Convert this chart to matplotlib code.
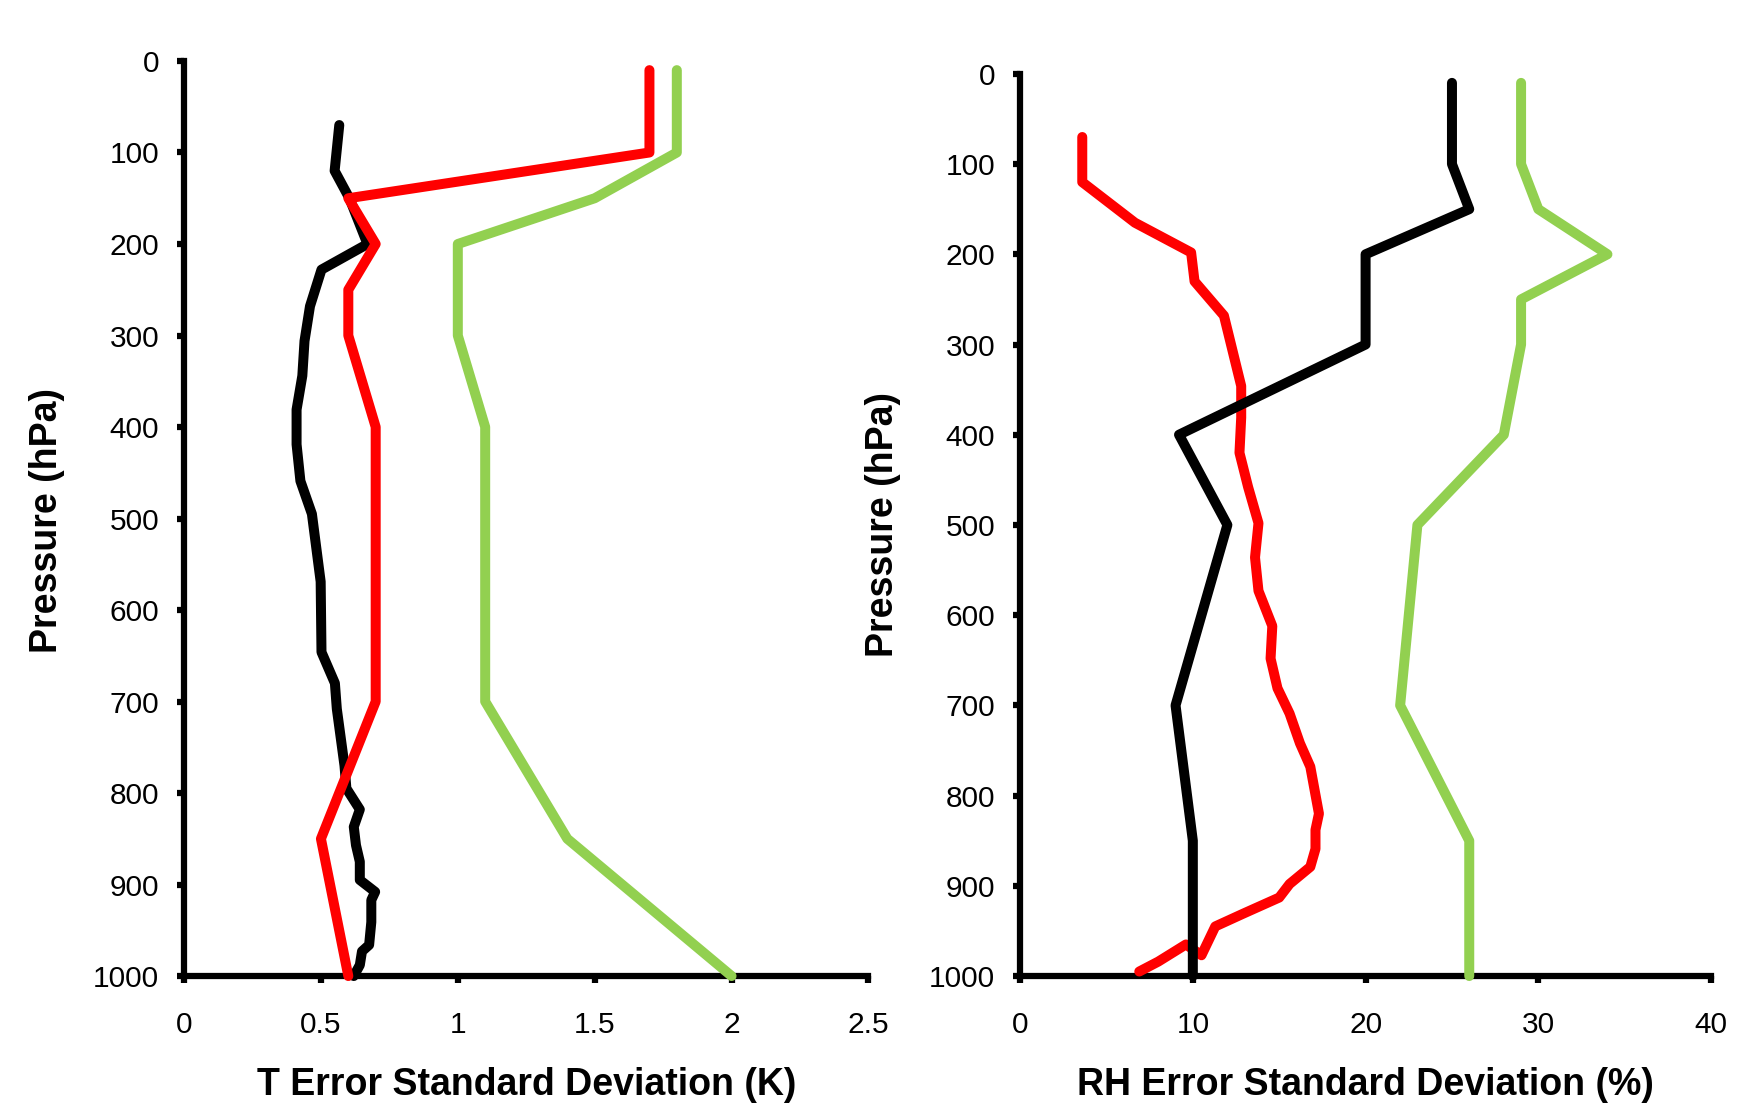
import matplotlib
matplotlib.use("Agg")
import matplotlib.pyplot as plt

plt.rcParams['font.family'] = ['Liberation Sans', 'DejaVu Sans']

# ---- Left panel: Temperature error standard deviation (K) ----
p_T_black = [70, 120, 150, 200, 228, 268, 306, 344, 381, 419, 459, 495, 569, 646, 680, 708, 770, 795, 818, 837, 857, 875, 895, 908, 917, 941, 966, 973, 988, 1000]
T_black = [0.567, 0.55, 0.604, 0.67, 0.502, 0.46, 0.44, 0.432, 0.411, 0.411, 0.425, 0.467, 0.499, 0.502, 0.551, 0.558, 0.586, 0.593, 0.642, 0.62, 0.628, 0.642, 0.642, 0.698, 0.684, 0.684, 0.676, 0.65, 0.642, 0.62]

p_T_red = [10, 100, 150, 200, 250, 300, 400, 700, 850, 1000]
T_red = [1.7, 1.7, 0.6, 0.7, 0.6, 0.6, 0.7, 0.7, 0.5, 0.6]

p_T_green = [10, 100, 150, 200, 300, 400, 700, 850, 1000]
T_green = [1.8, 1.8, 1.5, 1.0, 1.0, 1.1, 1.1, 1.4, 2.0]

# ---- Right panel: RH error standard deviation (%) ----
p_RH_black = [10, 100, 150, 200, 300, 400, 500, 700, 850, 1000]
RH_black = [25, 25, 26, 20, 20, 9.2, 12, 9, 10, 10]

p_RH_green = [10, 100, 150, 200, 250, 300, 400, 500, 700, 850, 1000]
RH_green = [29, 29, 30, 34, 29, 29, 28, 23, 22, 26, 26]

p_RH_red = [70, 120, 165, 198, 230, 268, 307, 346, 381, 420, 458, 498, 536, 573, 612, 648, 681, 709, 742, 768, 820, 838, 859, 879, 898, 913, 931, 945, 977, 965, 984, 995]
RH_red = [3.6, 3.6, 6.65, 9.9, 10.1, 11.8, 12.3, 12.8, 12.8, 12.7, 13.2, 13.8, 13.6, 13.8, 14.6, 14.5, 14.9, 15.6, 16.2, 16.8, 17.3, 17.1, 17.1, 16.8, 15.6, 15.0, 12.9, 11.3, 10.5, 9.6, 8.0, 6.9]

p_ticks = [0, 100, 200, 300, 400, 500, 600, 700, 800, 900, 1000]
T_ticks = [0, 0.5, 1, 1.5, 2, 2.5]
T_ticklabels = ['0', '0.5', '1', '1.5', '2', '2.5']
RH_ticks = [0, 10, 20, 30, 40]

BLACK = '#000000'
RED = '#FF0000'
GREEN = '#92D050'

fig = plt.figure(figsize=(17.53, 11.09), dpi=100)

ax1 = fig.add_axes([0.1050, 0.1199, 0.3904, 0.8251])
ax2 = fig.add_axes([0.5819, 0.1199, 0.3942, 0.8135])

lw = 7.2
kw = dict(lw=lw, solid_capstyle='round', solid_joinstyle='round', clip_on=False, zorder=3)

ax1.plot(T_green, p_T_green, color=GREEN, **kw)
ax1.plot(T_black, p_T_black, color=BLACK, **kw)
ax1.plot(T_red, p_T_red, color=RED, **kw)

ax2.plot(RH_green, p_RH_green, color=GREEN, **kw)
ax2.plot(RH_red, p_RH_red, color=RED, **kw)
ax2.plot(RH_black, p_RH_black, color=BLACK, **kw)

for ax in (ax1, ax2):
    ax.set_ylim(1000, 0)
    ax.set_yticks(p_ticks)
    ax.set_yticklabels([str(v) for v in p_ticks])
    for s in ('top', 'right'):
        ax.spines[s].set_visible(False)
    for s in ('left', 'bottom'):
        ax.spines[s].set_linewidth(4.5)
    ax.tick_params(axis='both', direction='out', length=5, width=4.5, labelsize=21.5)
    ax.tick_params(axis='y', pad=13)
    ax.tick_params(axis='x', pad=20)

ax1.set_xlim(0, 2.5)
ax1.set_xticks(T_ticks)
ax1.set_xticklabels(T_ticklabels)
ax2.set_xlim(0, 40)
ax2.set_xticks(RH_ticks)
ax2.set_xticklabels([str(v) for v in RH_ticks])

ax1.set_xlabel('T Error Standard Deviation (K)', fontsize=27, fontweight='bold', va='center')
ax1.xaxis.set_label_coords(0.5, -0.119)
ax1.set_ylabel('Pressure (hPa)', fontsize=27, fontweight='bold', va='center')
ax1.yaxis.set_label_coords(-0.200, 0.498)

ax2.set_xlabel('RH Error Standard Deviation (%)', fontsize=27, fontweight='bold', va='center')
ax2.xaxis.set_label_coords(0.5, -0.1205)
ax2.set_ylabel('Pressure (hPa)', fontsize=27, fontweight='bold', va='center')
ax2.yaxis.set_label_coords(-0.198, 0.500)

fig.savefig('out.png', dpi=100, facecolor='white')
